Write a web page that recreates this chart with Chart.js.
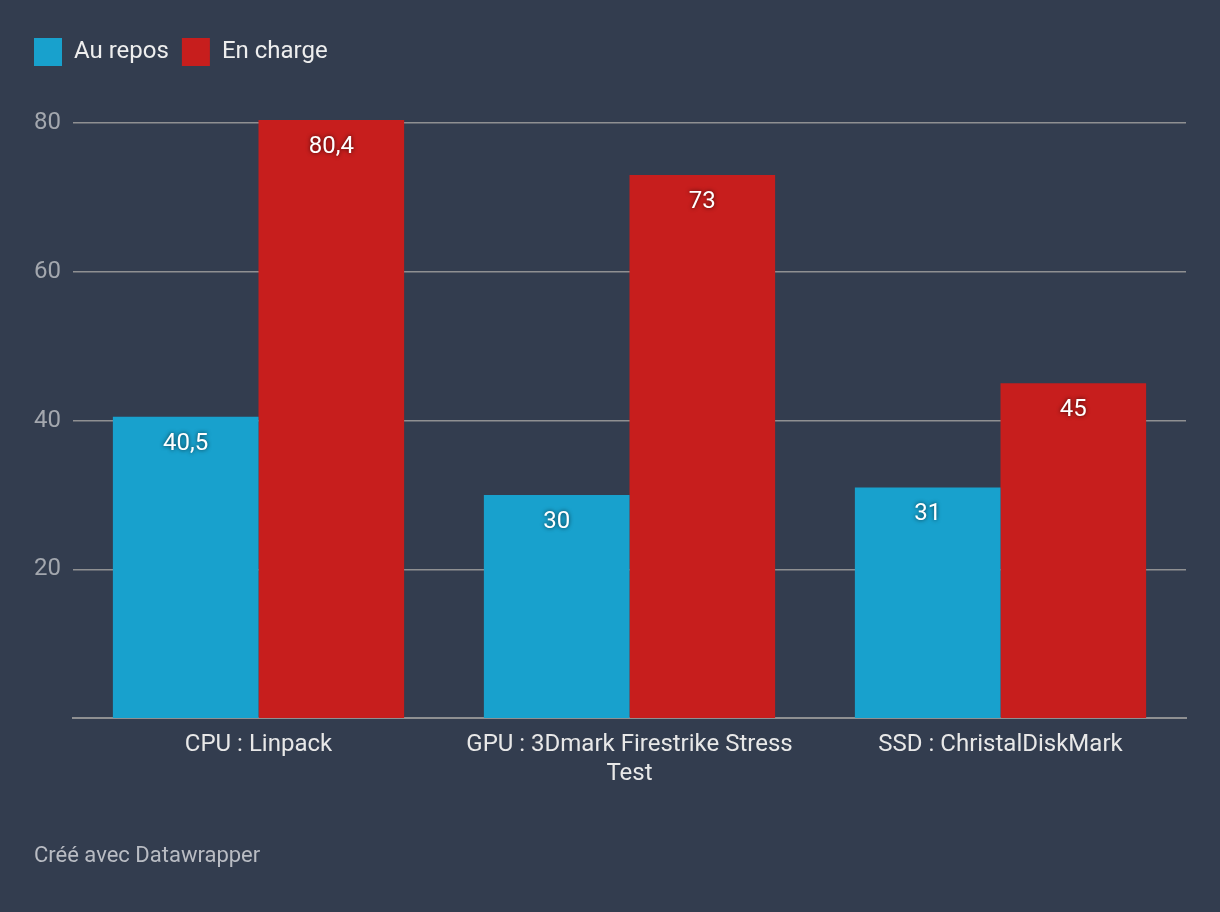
<!DOCTYPE html>
<html lang="fr">
<head>
<meta charset="utf-8">
<title>Températures</title>
<script src="https://cdn.jsdelivr.net/npm/chart.js@4.4.1/dist/chart.umd.min.js"></script>
<style>
  html, body { margin: 0; padding: 0; background: #333d4f; }
  #wrap { position: relative; width: 1220px; height: 912px; }
  #credit {
    position: absolute; left: 34px; top: 842px;
    font: 22px Roboto, sans-serif; color: #b9bcc3;
  }
</style>
</head>
<body>
<div id="wrap">
  <canvas id="chart"></canvas>
  <div id="credit">Créé avec Datawrapper</div>
</div>
<script>
const CATEGORIES = ['CPU : Linpack', ['GPU : 3Dmark Firestrike Stress', 'Test'], 'SSD : ChristalDiskMark'];
const AU_REPOS = [40.5, 30, 31];
const EN_CHARGE = [80.4, 73, 45];
const Y_TICKS = [20, 40, 60, 80];

const FONT = 'Roboto';
const BLUE = '#18a1cd';
const RED = '#c71e1d';
const GRID = '#8f9092';

// pushes the plot down below the legend
const legendSpacer = {
  id: 'legendSpacer',
  beforeInit(chart) {
    const originalFit = chart.legend.fit;
    chart.legend.fit = function fit() {
      originalFit.bind(chart.legend)();
      this.height += 47;
    };
  }
};

// values written inside the top of each bar
const barValues = {
  id: 'barValues',
  afterDatasetsDraw(chart) {
    const { ctx } = chart;
    ctx.save();
    ctx.font = `24px ${FONT}`;
    ctx.textAlign = 'center';
    ctx.textBaseline = 'middle';
    ctx.fillStyle = '#ffffff';
    ctx.shadowColor = 'rgba(0,0,0,0.7)';
    ctx.shadowBlur = 4;
    chart.data.datasets.forEach((ds, i) => {
      chart.getDatasetMeta(i).data.forEach((bar, j) => {
        const text = String(ds.data[j]).replace('.', ',');
        ctx.fillText(text, bar.x, bar.y + 27);
      });
    });
    ctx.restore();
  }
};

new Chart(document.getElementById('chart'), {
  type: 'bar',
  data: {
    labels: CATEGORIES,
    datasets: [
      { label: 'Au repos', data: AU_REPOS, backgroundColor: BLUE },
      { label: 'En charge', data: EN_CHARGE, backgroundColor: RED }
    ]
  },
  options: {
    responsive: true,
    maintainAspectRatio: false,
    animation: false,
    devicePixelRatio: 1,
    layout: { padding: { left: 21, right: 34, top: 25, bottom: 94 } },
    datasets: {
      bar: { categoryPercentage: 0.785, barPercentage: 1, borderWidth: 0, clip: false }
    },
    plugins: {
      legend: {
        position: 'top',
        align: 'start',
        labels: {
          boxWidth: 28,
          boxHeight: 28,
          padding: 13,
          color: '#eeeeee',
          font: { family: FONT, size: 24 }
        }
      },
      tooltip: { enabled: false }
    },
    scales: {
      x: {
        grid: { display: false },
        border: { display: true, color: GRID, width: 2 },
        ticks: {
          color: '#e8e8e8',
          padding: 5,
          maxRotation: 0,
          font: { family: FONT, size: 24 }
        },
        afterFit(scale) { scale.height = 100; }
      },
      y: {
        min: 0,
        max: 80,
        border: { display: false },
        grid: { color: GRID, lineWidth: 1.5, drawTicks: false },
        ticks: {
          stepSize: 20,
          padding: 12,
          color: '#a3a7ae',
          font: { family: FONT, size: 24 }
        },
        afterBuildTicks(scale) {
          scale.ticks = Y_TICKS.map(v => ({ value: v }));
        },
        afterFit(scale) { scale.width = 52; }
      }
    }
  },
  plugins: [legendSpacer, barValues]
});
</script>
</body>
</html>
